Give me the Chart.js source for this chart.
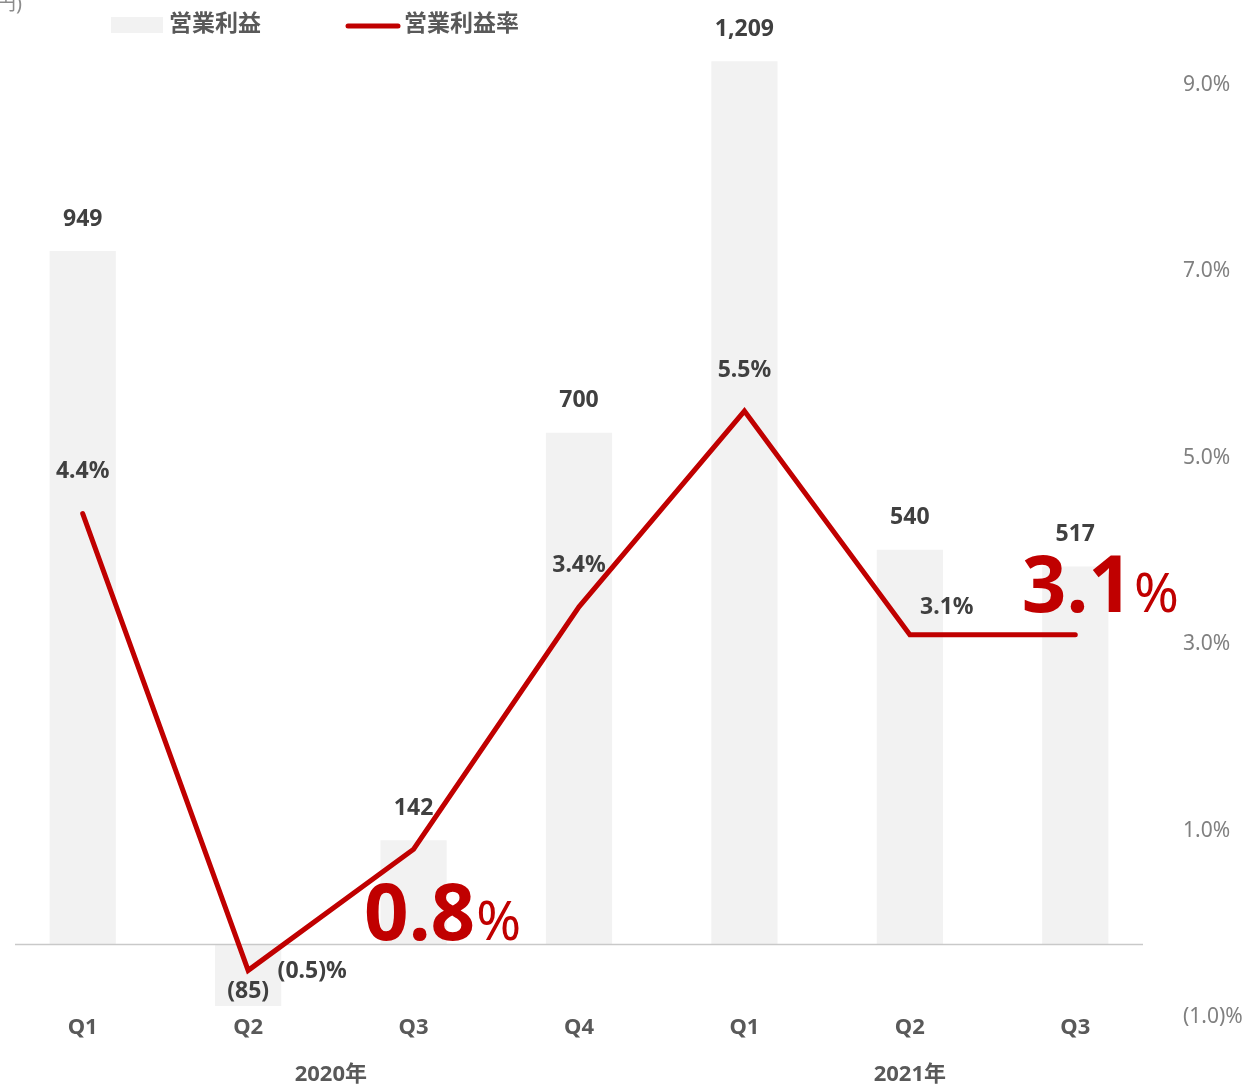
<!DOCTYPE html>
<html lang="ja">
<head>
<meta charset="utf-8">
<title>営業利益・営業利益率</title>
<script src="https://cdn.jsdelivr.net/npm/chart.js@4/dist/chart.umd.min.js"></script>
<style>
  html, body { margin: 0; padding: 0; background: #fff; }
  canvas { display: block; }
</style>
</head>
<body>
<canvas id="profitChart" width="1253" height="1089"></canvas>
<script>
const quarters = ['Q1', 'Q2', 'Q3', 'Q4', 'Q1', 'Q2', 'Q3'];
const years = ['2020年', '2021年'];
const yearOfQuarter = [0, 0, 0, 0, 1, 1, 1];
const operatingProfit = [949, -85, 142, 700, 1209, 540, 517];
const operatingMargin = [4.4, -0.5, 0.8, 3.4, 5.5, 3.1, 3.1];
const marginTicks = [-1, 1, 3, 5, 7, 9];

// where each margin label goes, relative to its point (dx, dy of the text centre)
const marginLabelKind = ['small', 'small', 'big', 'small', 'small', 'small', 'big'];
const marginLabelOffset = [[0, -42], [64, 1], [29, 62], [0, -41], [0, -41], [37, -27], [25, -52]];

const FONT = '"Noto Sans", "Noto Sans CJK JP", sans-serif';
const BAR_COLOR = '#f2f2f2';
const LINE_COLOR = '#c00000';
const TEXT_DARK = '#404040';
const TEXT_MID = '#595959';

function fmtProfit(v) {
  const s = Math.abs(v).toLocaleString('en-US');
  return v < 0 ? '(' + s + ')' : s;
}

function fmtPct(v) {
  const s = Math.abs(v).toFixed(1);
  return v < 0 ? '(' + s + ')%' : s + '%';
}

const decorations = {
  id: 'decorations',
  afterDatasetDraw(chart, args) {
    // zero line goes over the bars but under the margin line
    if (args.meta.type !== 'bar') return;
    const { ctx, chartArea, scales } = chart;
    const y0 = Math.round(scales.y.getPixelForValue(0)) + 0.5;
    ctx.save();
    ctx.strokeStyle = '#c9c9c9';
    ctx.lineWidth = 1.5;
    ctx.beginPath();
    ctx.moveTo(chartArea.left + 15, y0);
    ctx.lineTo(chartArea.right - 15, y0);
    ctx.stroke();
    ctx.restore();
  },
  afterDatasetsDraw(chart) {
    const { ctx, scales } = chart;
    const barMeta = chart.getDatasetMeta(1);
    const lineMeta = chart.getDatasetMeta(0);
    ctx.save();
    ctx.textAlign = 'center';
    ctx.textBaseline = 'middle';

    // profit values on the bars
    ctx.font = 'bold 23px ' + FONT;
    ctx.fillStyle = TEXT_DARK;
    barMeta.data.forEach((bar, i) => {
      const v = operatingProfit[i];
      const y = v >= 0 ? bar.y - 32 : bar.y - 15;
      ctx.fillText(fmtProfit(v), bar.x, y);
    });

    // margin values next to the line
    lineMeta.data.forEach((pt, i) => {
      const v = operatingMargin[i];
      const [dx, dy] = marginLabelOffset[i];
      const cx = pt.x + dx;
      const cy = pt.y + dy;
      if (marginLabelKind[i] === 'big') {
        const num = Math.abs(v).toFixed(1);
        ctx.font = 'bold 78px ' + FONT;
        const w1 = ctx.measureText(num).width;
        ctx.font = '54px ' + FONT;
        const w2 = ctx.measureText('%').width;
        const gap = 1;
        const left = cx - (w1 + gap + w2) / 2;
        const base = cy + 29;
        ctx.textAlign = 'left';
        ctx.textBaseline = 'alphabetic';
        ctx.fillStyle = LINE_COLOR;
        ctx.font = 'bold 78px ' + FONT;
        ctx.fillText(num, left, base);
        ctx.font = '54px ' + FONT;
        ctx.fillText('%', left + w1 + gap, base);
        ctx.textAlign = 'center';
        ctx.textBaseline = 'middle';
      } else {
        ctx.font = 'bold 23px ' + FONT;
        ctx.fillStyle = TEXT_DARK;
        ctx.fillText(fmtPct(v), cx, cy);
      }
    });

    // quarter and year labels under the axis
    ctx.font = 'bold 22px ' + FONT;
    ctx.fillStyle = TEXT_MID;
    quarters.forEach((q, i) => {
      ctx.fillText(q, scales.x.getPixelForValue(i), 1028);
    });
    years.forEach((yr, k) => {
      const idx = yearOfQuarter.map((y, i) => (y === k ? i : -1)).filter(i => i >= 0);
      const x0 = scales.x.getPixelForValue(idx[0]);
      const x1 = scales.x.getPixelForValue(idx[idx.length - 1]);
      ctx.fillText(yr, (x0 + x1) / 2, 1075);
    });

    // legend
    ctx.fillStyle = BAR_COLOR;
    ctx.fillRect(111, 17, 52, 16);
    ctx.strokeStyle = LINE_COLOR;
    ctx.lineWidth = 5;
    ctx.lineCap = 'round';
    ctx.beginPath();
    ctx.moveTo(348, 26);
    ctx.lineTo(398, 26);
    ctx.stroke();
    ctx.textAlign = 'left';
    ctx.font = 'bold 23px ' + FONT;
    ctx.fillStyle = TEXT_MID;
    ctx.fillText(chart.data.datasets[1].label, 169, 24);
    ctx.fillText(chart.data.datasets[0].label, 404, 24);

    // unit, mostly cut off at the left edge
    ctx.textAlign = 'right';
    ctx.font = '20px ' + FONT;
    ctx.fillStyle = '#8c8c8c';
    ctx.fillText('(百万円)', 22, 4);
    ctx.restore();
  }
};

new Chart(document.getElementById('profitChart'), {
  type: 'bar',
  data: {
    labels: quarters,
    datasets: [
      {
        type: 'line',
        label: '営業利益率',
        data: operatingMargin,
        yAxisID: 'y1',
        borderColor: LINE_COLOR,
        borderWidth: 5,
        borderJoinStyle: 'miter',
        borderCapStyle: 'round',
        pointRadius: 0,
        tension: 0,
        order: 0
      },
      {
        type: 'bar',
        label: '営業利益',
        data: operatingProfit,
        yAxisID: 'y',
        backgroundColor: BAR_COLOR,
        categoryPercentage: 1,
        barPercentage: 0.4,
        order: 1
      }
    ]
  },
  options: {
    responsive: false,
    animation: false,
    layout: { padding: { top: 40, bottom: 72, left: 0, right: 0 } },
    plugins: {
      legend: { display: false },
      tooltip: { enabled: false }
    },
    scales: {
      x: { display: false },
      y: { display: false, min: -100, max: 1238 },
      y1: {
        position: 'right',
        min: -1,
        max: 9.48,
        grid: { display: false, drawTicks: false },
        border: { display: false },
        afterBuildTicks: s => { s.ticks = marginTicks.map(v => ({ value: v })); },
        afterFit: s => { s.width = 95; },
        ticks: {
          padding: 25,
          color: '#808080',
          font: { family: FONT, size: 21 },
          callback: v => fmtPct(v)
        }
      }
    }
  },
  plugins: [decorations]
});
</script>
</body>
</html>
